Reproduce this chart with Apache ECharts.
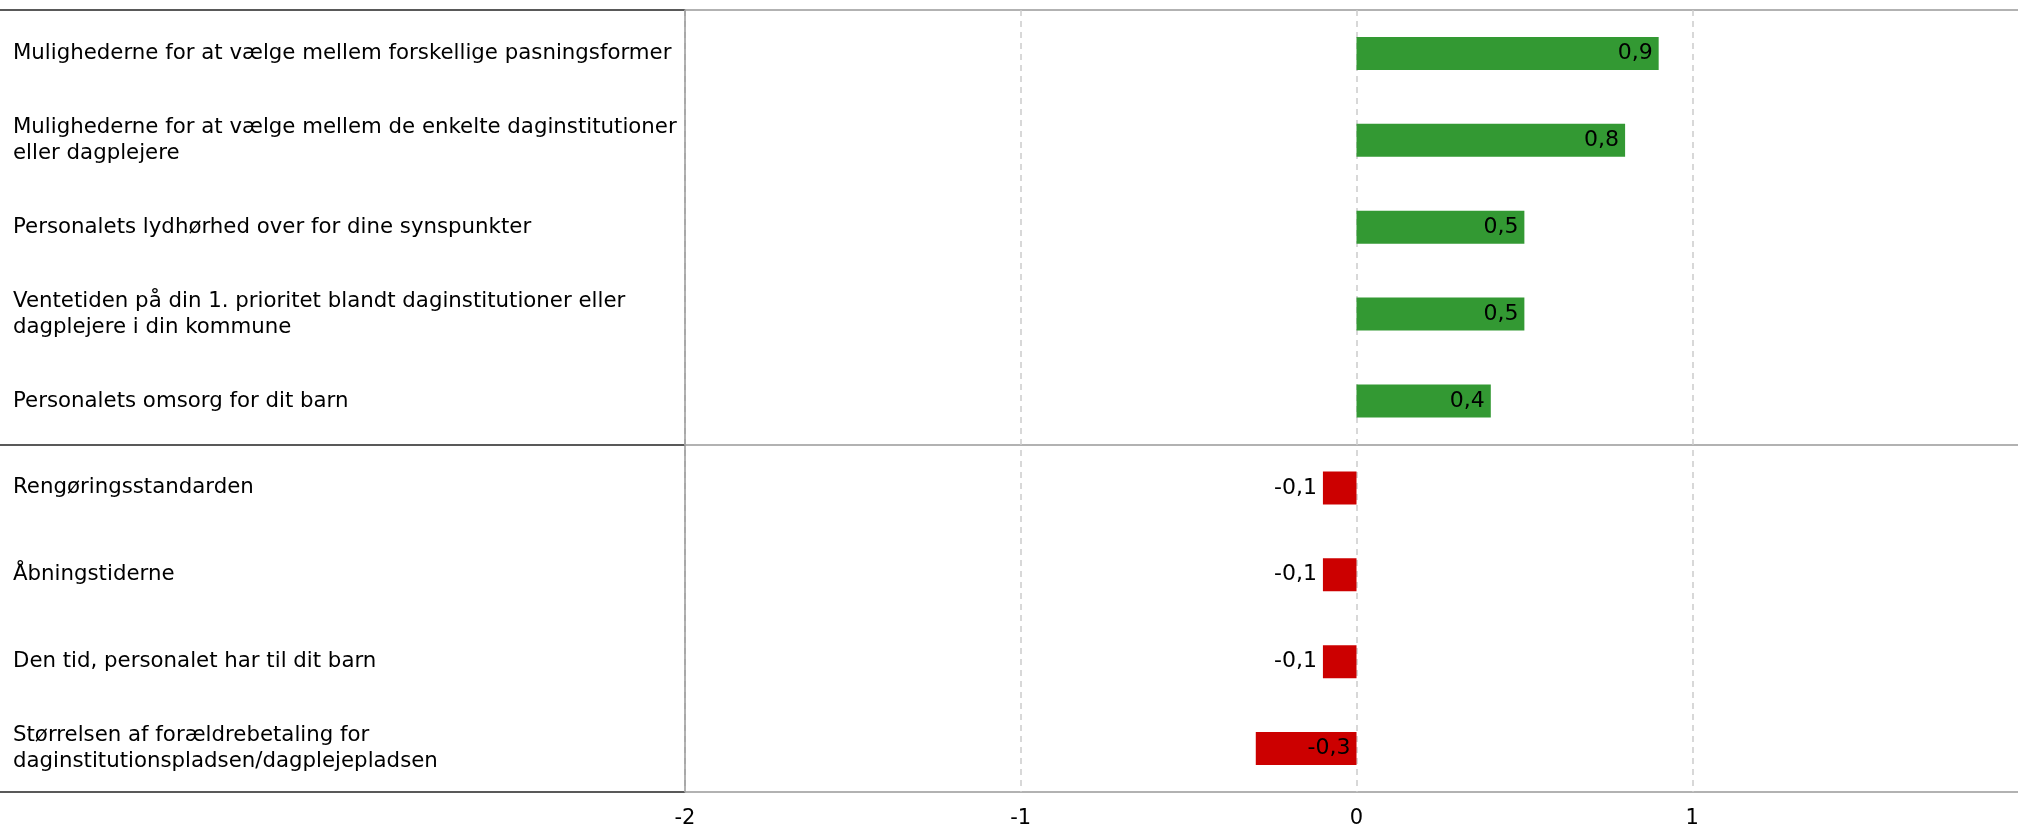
<!DOCTYPE html>
<html>
<head>
<meta charset="utf-8">
<script src="https://cdn.jsdelivr.net/npm/echarts@6/dist/echarts.min.js"></script>
<style>
html,body{margin:0;padding:0;background:#fff;overflow:hidden;}
#chart{width:2018px;height:826px;}
</style>
</head>
<body>
<div id="chart"></div>
<script>
const categories = [
  "Mulighederne for at vælge mellem forskellige pasningsformer",
  "Mulighederne for at vælge mellem de enkelte daginstitutioner\neller dagplejere",
  "Personalets lydhørhed over for dine synspunkter",
  "Ventetiden på din 1. prioritet blandt daginstitutioner eller\ndagplejere i din kommune",
  "Personalets omsorg for dit barn",
  "Rengøringsstandarden",
  "Åbningstiderne",
  "Den tid, personalet har til dit barn",
  "Størrelsen af forældrebetaling for\ndaginstitutionspladsen/dagplejepladsen"
];
const values = [0.9, 0.8, 0.5, 0.5, 0.4, -0.1, -0.1, -0.1, -0.3];
const xTicks = [-2, -1, 0, 1, 2];
// group separators (counted from bottom): bottom edge, between positive/negative groups, top edge
const separators = [0, 4, 9];

const FONT = "DejaVu Sans";
const GREEN = "#339933";
const RED = "#cc0000";

const barData = values.map(v => ({
  value: v,
  itemStyle: { color: v >= 0 ? GREEN : RED },
  label: { position: (v < 0 && v > -0.2) ? 'left' : 'insideRight' }
}));

function sepColors(c) {
  const arr = [];
  for (let i = 0; i <= categories.length; i++) arr.push(separators.indexOf(i) >= 0 ? c : 'rgba(0,0,0,0)');
  return arr;
}

const chart = echarts.init(document.getElementById('chart'));
chart.setOption({
  animation: false,
  grid: [
    { left: 685, top: 10, width: 1343, height: 782, outerBoundsMode: 'none', containLabel: false },
    { left: 0, top: 10, width: 685, height: 782, outerBoundsMode: 'none', containLabel: false },
    { left: 685, top: 10, width: 1343, height: 782, outerBoundsMode: 'none', containLabel: false }
  ],
  xAxis: [
    {
      gridIndex: 0, type: 'value', min: xTicks[0], max: xTicks[xTicks.length - 1], interval: 1,
      axisLine: { show: false }, axisTick: { show: false },
      axisLabel: { color: '#000', fontFamily: FONT, fontSize: 21, margin: 16, showMaxLabel: false,
        formatter: v => String(v).replace('.', ',') },
      splitLine: { show: true, lineStyle: { color: '#cccccc', type: [6, 5], width: 1.5 } }
    },
    { gridIndex: 1, type: 'value', show: false },
    { gridIndex: 2, type: 'value', show: false }
  ],
  yAxis: [
    {
      gridIndex: 0, type: 'category', data: categories, inverse: true,
      axisLine: { show: true, onZero: false, lineStyle: { color: '#999999', width: 1.5 } },
      axisTick: { show: false },
      splitLine: { show: false },
      axisLabel: { align: 'left', margin: 672, color: '#000', fontFamily: FONT, fontSize: 21.3, lineHeight: 26 }
    },
    {
      gridIndex: 1, type: 'value', min: 0, max: categories.length, interval: 1,
      axisLine: { show: false }, axisTick: { show: false }, axisLabel: { show: false },
      splitLine: { show: true, lineStyle: { color: sepColors('#222222'), width: 1.5 } }
    },
    {
      gridIndex: 2, type: 'value', min: 0, max: categories.length, interval: 1,
      axisLine: { show: false }, axisTick: { show: false }, axisLabel: { show: false },
      splitLine: { show: true, lineStyle: { color: sepColors('#999999'), width: 1.5 } }
    }
  ],
  series: [
    {
      type: 'bar', xAxisIndex: 0, yAxisIndex: 0, data: barData, barWidth: 33,
      label: { show: true, color: '#000', fontFamily: FONT, fontSize: 22, distance: 6,
        formatter: p => String(p.value).replace('.', ',') }
    }
  ]
});
</script>
</body>
</html>
